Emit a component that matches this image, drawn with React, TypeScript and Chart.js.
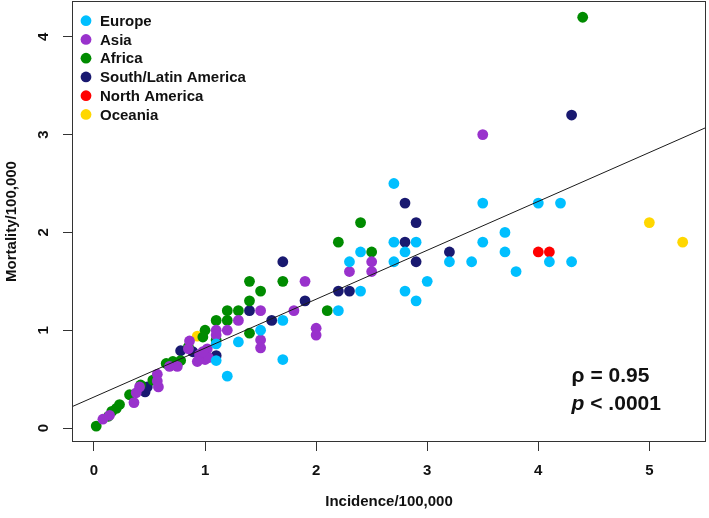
import React, { useEffect, useRef } from "react";
import { Chart, registerables } from "chart.js";

Chart.register(...registerables);

const FONT_FAMILY = '"Liberation Sans", Arial, Helvetica, sans-serif';

const SERIES_NAMES = ["Europe", "Asia", "Africa", "South/Latin America", "North America", "Oceania"];
const SERIES_COLORS = ["#00BFFF", "#9932CC", "#008B00", "#191970", "#FF0000", "#FFD700"];

const EUROPE_X = [2.7, 3.5, 4.0, 4.2, 3.7, 2.7, 2.9, 3.5, 2.4, 2.8, 3.7, 2.3, 2.7, 3.2, 3.4, 4.1, 4.3, 3.8, 3.0, 2.4, 2.8, 2.9, 2.2, 1.7, 1.5, 1.3, 1.1, 1.7, 1.1, 1.2];
const EUROPE_Y = [2.5, 2.3, 2.3, 2.3, 2.0, 1.9, 1.9, 1.9, 1.8, 1.8, 1.8, 1.7, 1.7, 1.7, 1.7, 1.7, 1.7, 1.6, 1.5, 1.4, 1.4, 1.3, 1.2, 1.1, 1.0, 0.88, 0.86, 0.7, 0.69, 0.53];

const ASIA_X = [3.5, 2.5, 2.3, 2.5, 1.9, 1.5, 1.8, 1.3, 1.1, 1.2, 2.0, 2.0, 1.5, 1.5, 1.1, 0.86, 0.85, 1.02, 0.95, 1.0, 0.93, 1.03, 0.98, 0.68, 0.75, 0.57, 0.57, 0.58, 0.41, 0.38, 0.36, 0.14, 0.08];
const ASIA_Y = [3.0, 1.7, 1.6, 1.6, 1.5, 1.2, 1.2, 1.1, 1.0, 1.0, 1.02, 0.95, 0.9, 0.82, 0.95, 0.89, 0.81, 0.81, 0.75, 0.7, 0.68, 0.72, 0.78, 0.63, 0.63, 0.55, 0.48, 0.42, 0.42, 0.36, 0.26, 0.13, 0.09];

const AFRICA_X = [4.4, 2.4, 2.2, 2.5, 1.4, 1.7, 1.5, 1.4, 1.2, 1.3, 2.1, 1.1, 1.2, 1.0, 1.4, 0.98, 1.1, 0.85, 0.78, 0.71, 0.65, 0.53, 0.42, 0.32, 0.23, 0.2, 0.16, 0.13, 0.02];
const AFRICA_Y = [4.2, 2.1, 1.9, 1.8, 1.5, 1.5, 1.4, 1.3, 1.2, 1.2, 1.2, 1.1, 1.1, 1.0, 0.97, 0.93, 0.9, 0.83, 0.69, 0.68, 0.66, 0.49, 0.44, 0.34, 0.24, 0.2, 0.17, 0.12, 0.02];

const SOUTH_AM_X = [4.3, 2.8, 2.9, 2.8, 3.2, 2.9, 1.7, 2.2, 2.3, 1.9, 1.4, 1.6, 1.1, 0.78, 0.89, 0.46, 0.48];
const SOUTH_AM_Y = [3.2, 2.3, 2.1, 1.9, 1.8, 1.7, 1.7, 1.4, 1.4, 1.3, 1.2, 1.1, 0.74, 0.79, 0.78, 0.37, 0.42];

const NORTH_AM_X = [4.0, 4.1];
const NORTH_AM_Y = [1.8, 1.8];

const OCEANIA_X = [5.0, 5.3, 0.93];
const OCEANIA_Y = [2.1, 1.9, 0.94];

const FIT_X = [-0.3, 5.6];
const FIT_Y = [0.167, 3.117];

const X_TICKS = [0, 1, 2, 3, 4, 5];
const Y_TICKS = [0, 1, 2, 3, 4];
const X_RANGE = [-0.198, 5.51];
const Y_RANGE = [-0.143, 4.366];

const X_TITLE = "Incidence/100,000";
const Y_TITLE = "Mortality/100,000";

const STAT_RHO = "ρ = 0.95";
const STAT_P_ITALIC = "p";
const STAT_P_REST = " < .0001";
const STAT_POS_X = 4.3;
const STAT_POS_Y = [0.47, 0.185];

const SERIES_X = [EUROPE_X, ASIA_X, AFRICA_X, SOUTH_AM_X, NORTH_AM_X, OCEANIA_X];
const SERIES_Y = [EUROPE_Y, ASIA_Y, AFRICA_Y, SOUTH_AM_Y, NORTH_AM_Y, OCEANIA_Y];

const toPoints = (xs: number[], ys: number[]) => xs.map((x, i) => ({ x, y: ys[i] }));

const framePlugin = {
  id: "frame",
  afterDraw(chart: any) {
    const { ctx, chartArea } = chart;
    ctx.save();
    ctx.strokeStyle = "#333";
    ctx.lineWidth = 1;
    ctx.strokeRect(chartArea.left + 0.5, chartArea.top + 0.5, chartArea.right - chartArea.left - 1, chartArea.bottom - chartArea.top - 1);
    ctx.restore();
  },
};

const legendPlugin = {
  id: "rLegend",
  afterDraw(chart: any) {
    const { ctx, chartArea } = chart;
    ctx.save();
    ctx.font = `bold 15px ${FONT_FAMILY}`;
    ctx.textBaseline = "middle";
    ctx.textAlign = "left";
    SERIES_NAMES.forEach((name, i) => {
      const cy = chartArea.top + 19.7 + i * 18.75;
      const cx = chartArea.left + 14;
      ctx.beginPath();
      ctx.fillStyle = SERIES_COLORS[i];
      ctx.arc(cx, cy, 5.4, 0, Math.PI * 2);
      ctx.fill();
      ctx.fillStyle = "#111";
      ctx.fillText(name, cx + 14, cy + 1);
    });
    ctx.restore();
  },
};

const statsPlugin = {
  id: "stats",
  afterDraw(chart: any) {
    const { ctx, scales } = chart;
    const x = scales.x.getPixelForValue(STAT_POS_X);
    const y1 = scales.y.getPixelForValue(STAT_POS_Y[0]);
    const y2 = scales.y.getPixelForValue(STAT_POS_Y[1]);
    ctx.save();
    ctx.fillStyle = "#111";
    ctx.textBaseline = "alphabetic";
    ctx.textAlign = "left";
    ctx.font = `bold 21px ${FONT_FAMILY}`;
    ctx.fillText(STAT_RHO, x, y1);
    ctx.font = `italic bold 21px ${FONT_FAMILY}`;
    ctx.fillText(STAT_P_ITALIC, x, y2);
    const w = ctx.measureText(STAT_P_ITALIC).width;
    ctx.font = `bold 21px ${FONT_FAMILY}`;
    ctx.fillText(STAT_P_REST, x + w, y2);
    ctx.restore();
  },
};

export default function App() {
  const canvasRef = useRef<HTMLCanvasElement | null>(null);

  useEffect(() => {
    const canvas = canvasRef.current;
    if (!canvas) return;
    const datasets: any[] = [
      {
        type: "line",
        label: "fit",
        data: toPoints(FIT_X, FIT_Y),
        borderColor: "#1a1a1a",
        borderWidth: 1,
        pointRadius: 0,
        showLine: true,
        fill: false,
        order: -1,
      },
      ...SERIES_NAMES.map((name, i) => ({
        type: "scatter",
        label: name,
        data: toPoints(SERIES_X[i], SERIES_Y[i]),
        backgroundColor: SERIES_COLORS[i],
        borderWidth: 0,
        pointRadius: 5.4,
        pointHoverRadius: 5.4,
        order: i,
      })),
    ];
    const tickFont = { family: FONT_FAMILY, size: 15, weight: "bold" as const };
    const chart = new Chart(canvas, {
      type: "scatter",
      data: { datasets },
      options: {
        animation: false,
        responsive: false,
        devicePixelRatio: 1,
        events: [],
        layout: { autoPadding: false, padding: { top: 1, right: 3, left: 0, bottom: 0 } },
        plugins: { legend: { display: false }, tooltip: { enabled: false } },
        scales: {
          x: {
            type: "linear",
            position: "bottom",
            min: X_RANGE[0],
            max: X_RANGE[1],
            afterBuildTicks: (scale: any) => {
              scale.ticks = X_TICKS.map((v) => ({ value: v }));
            },
            afterFit: (scale: any) => {
              scale.height = 76;
              scale.paddingLeft = 0;
              scale.paddingRight = 0;
              scale.paddingTop = 0;
              scale.paddingBottom = 0;
            },
            grid: { drawOnChartArea: false, drawTicks: true, tickLength: 9, color: "#333", tickColor: "#333" },
            border: { display: false },
            ticks: { font: tickFont, color: "#111", padding: 11, maxRotation: 0, autoSkip: false, callback: (v: any) => String(v) },
            title: { display: true, text: X_TITLE, font: tickFont, color: "#111", padding: { top: 0, bottom: 7 } },
          },
          y: {
            type: "linear",
            position: "left",
            min: Y_RANGE[0],
            max: Y_RANGE[1],
            afterBuildTicks: (scale: any) => {
              scale.ticks = Y_TICKS.map((v) => ({ value: v }));
            },
            afterFit: (scale: any) => {
              scale.width = 72;
              scale.paddingLeft = 0;
              scale.paddingRight = 0;
              scale.paddingTop = 0;
              scale.paddingBottom = 0;
            },
            grid: { drawOnChartArea: false, drawTicks: true, tickLength: 9, color: "#333", tickColor: "#333" },
            border: { display: false },
            ticks: { font: tickFont, color: "#111", padding: 15, minRotation: 90, maxRotation: 90, crossAlign: "center", autoSkip: false, callback: (v: any) => String(v) },
            title: { display: true, text: Y_TITLE, font: tickFont, color: "#111", padding: { top: 3, bottom: 0 } },
          },
        },
      },
      plugins: [framePlugin, legendPlugin, statsPlugin],
    } as any);
    return () => chart.destroy();
  }, []);

  return (
    <div style={{ position: "absolute", left: 0, top: 0, width: 709, height: 518, background: "#fff" }}>
      <canvas ref={canvasRef} width={709} height={518} style={{ display: "block", width: 709, height: 518 }} />
    </div>
  );
}
